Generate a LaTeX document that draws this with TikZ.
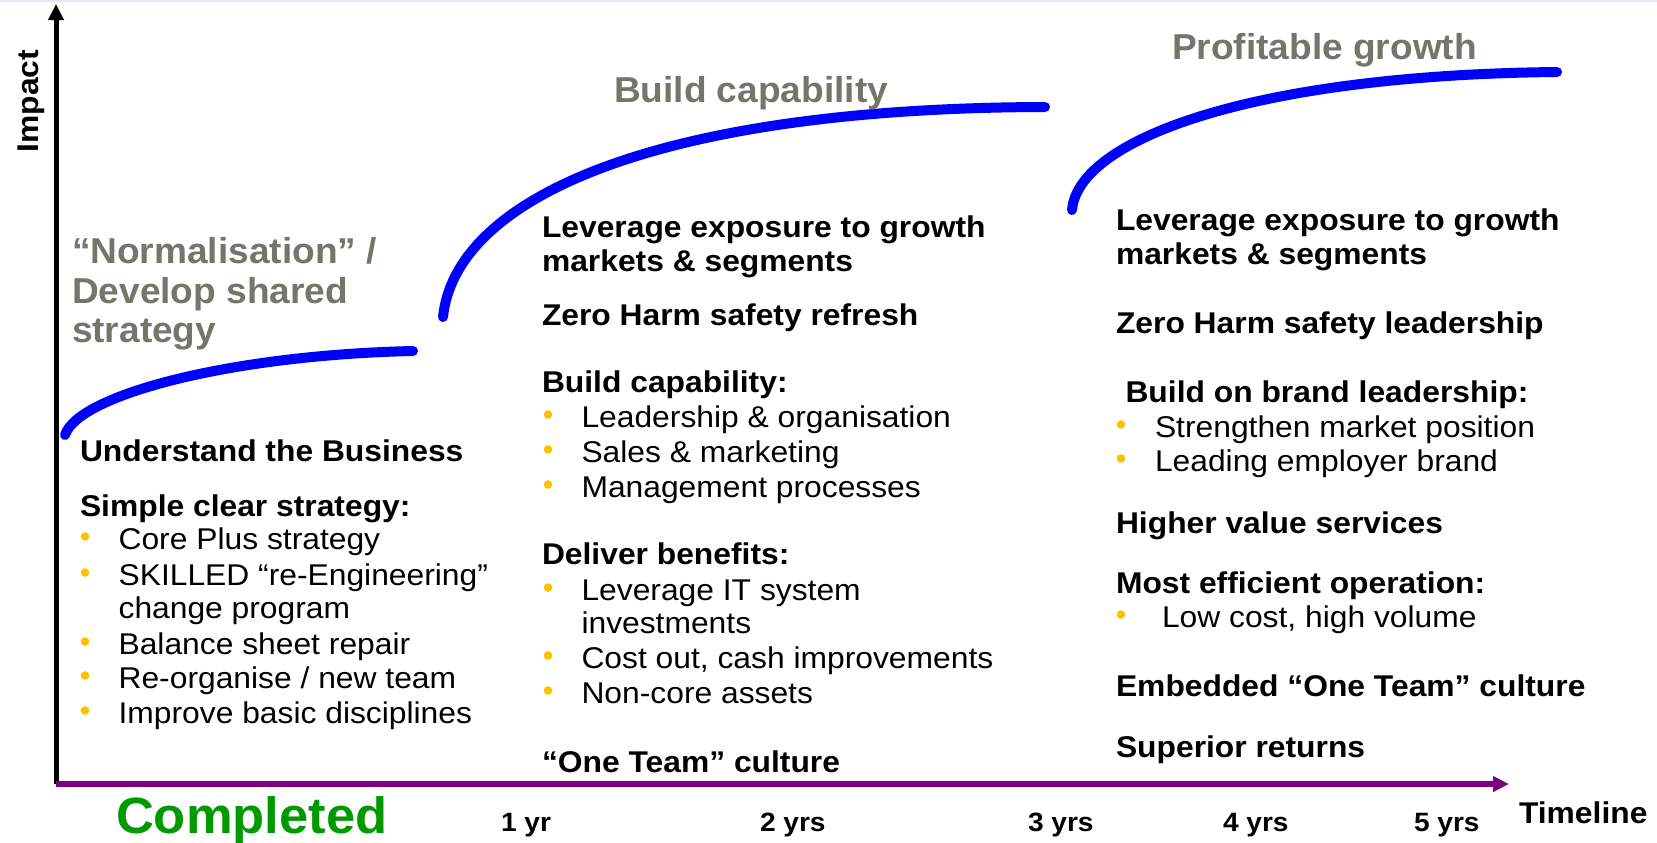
\documentclass[tikz,border=0pt]{standalone}
\usepackage{fontspec}
\usetikzlibrary{arrows.meta}

% Type faces: body text slightly widened, phase titles nearly natural width
\newfontfamily\bodyfam{Liberation Sans}[FakeStretch=1.06]
\newfontfamily\titlefam{Liberation Sans}[FakeStretch=1.03]

\definecolor{curveblue}{RGB}{0,0,255}
\definecolor{axispurple}{RGB}{128,0,128}
\definecolor{phasegray}{RGB}{116,117,107}
\definecolor{bulletamber}{RGB}{255,192,0}
\definecolor{donegreen}{RGB}{0,154,0}
\definecolor{edgeline}{RGB}{226,231,246}

\tikzset{
  txt/.style={anchor=base west, inner sep=0pt, outer sep=0pt},
  headline/.style={txt, font=\bodyfam\bfseries\fontsize{15}{18}\selectfont},
  itemline/.style={txt, font=\bodyfam\fontsize{15}{18}\selectfont},
  phase/.style={txt, text=phasegray, font=\titlefam\bfseries\fontsize{18}{21}\selectfont},
  ticklabel/.style={txt, font=\bodyfam\bfseries\fontsize{13.25}{16}\selectfont},
  bulletdot/.style={circle, fill=bulletamber, inner sep=0pt, minimum size=4.3pt},
  growth/.style={draw=curveblue, line width=5pt, line cap=round},
  yaxis/.style={draw=black, line width=2.5pt, -{Triangle[length=8pt,width=7.5pt]}},
  xaxis/.style={draw=axispurple, line width=2.7pt, -{Triangle[length=8pt,width=7.5pt]}},
}

\begin{document}
\begin{tikzpicture}[x=0.5pt, y=-0.5pt]
\useasboundingbox (0,0) rectangle (1657,842);

% thin rule along the top edge
\draw[edgeline, line width=1pt] (0,1) -- (1657,1);

% axes
\coordinate (origin) at (56,784);
\coordinate (ytip) at (56,4);
\coordinate (xtip) at (1509,784);
\draw[yaxis] (origin) -- (ytip);
\draw[xaxis] (origin) -- (xtip);
\node[headline, anchor=base, rotate=90] (impact) at (38,101) {Impact};
\node[headline] (timeline) at (1519,823) {Timeline};

% growth curves, one per phase
\coordinate (g1s) at (65,435);   \coordinate (g1e) at (413,351);
\coordinate (g2s) at (443,317);  \coordinate (g2e) at (1045,107);
\coordinate (g3s) at (1072,210); \coordinate (g3e) at (1557,72);
\draw[growth] (g1s) .. controls (78,395) and (230,355) .. (g1e);
\draw[growth] (g2s) .. controls (455,200) and (650,108) .. (g2e);
\draw[growth] (g3s) .. controls (1078,140) and (1250,75) .. (g3e);

% phase titles
\node[phase] (p1a) at (72,263) {“Normalisation” /};
\node[phase] (p1b) at (72,303) {Develop shared};
\node[phase] (p1c) at (72,342) {strategy};
\node[phase] (p2) at (614,102) {Build capability};
\node[phase] (p3) at (1172,59) {Profitable growth};

% first phase
\node[headline] (c1h1) at (80,461) {Understand the Business};
\node[headline] (c1h2) at (80,516) {Simple clear strategy:};
\node[itemline] (c1i1) at (118.6,549) {Core Plus strategy};
\node[itemline] (c1i2) at (118.6,585) {SKILLED “re-Engineering”};
\node[itemline] (c1i2b) at (118.6,618) {change program};
\node[itemline] (c1i3) at (118.6,654) {Balance sheet repair};
\node[itemline] (c1i4) at (118.6,688) {Re-organise / new team};
\node[itemline] (c1i5) at (118.6,723) {Improve basic disciplines};
\node[bulletdot] (c1d1) at (85,536.5) {};
\node[bulletdot] (c1d2) at (85,572.5) {};
\node[bulletdot] (c1d3) at (85,641.5) {};
\node[bulletdot] (c1d4) at (85,675.5) {};
\node[bulletdot] (c1d5) at (85,710.5) {};

% second phase
\node[headline] (c2h1) at (542,237) {Leverage exposure to growth};
\node[headline] (c2h1b) at (542,271) {markets \& segments};
\node[headline] (c2h2) at (542,325) {Zero Harm safety refresh};
\node[headline] (c2h3) at (542,392) {Build capability:};
\node[itemline] (c2i1) at (581.5,427) {Leadership \& organisation};
\node[itemline] (c2i2) at (581.5,462) {Sales \& marketing};
\node[itemline] (c2i3) at (581.5,497) {Management processes};
\node[headline] (c2h4) at (542,564) {Deliver benefits:};
\node[itemline] (c2i4) at (581.5,600) {Leverage IT system};
\node[itemline] (c2i4b) at (581.5,633) {investments};
\node[itemline] (c2i5) at (581.5,668) {Cost out, cash improvements};
\node[itemline] (c2i6) at (581.5,703) {Non-core assets};
\node[headline] (c2h5) at (542,772) {“One Team” culture};
\node[bulletdot] (c2d1) at (548,414.5) {};
\node[bulletdot] (c2d2) at (548,449.5) {};
\node[bulletdot] (c2d3) at (548,484.5) {};
\node[bulletdot] (c2d4) at (548,587.5) {};
\node[bulletdot] (c2d5) at (548,655.5) {};
\node[bulletdot] (c2d6) at (548,690.5) {};

% third phase
\node[headline] (c3h1) at (1116,230) {Leverage exposure to growth};
\node[headline] (c3h1b) at (1116,264) {markets \& segments};
\node[headline] (c3h2) at (1116,333) {Zero Harm safety leadership};
\node[headline] (c3h3) at (1125.5,402) {Build on brand leadership:};
\node[itemline] (c3i1) at (1155,437) {Strengthen market position};
\node[itemline] (c3i2) at (1155,471) {Leading employer brand};
\node[headline] (c3h4) at (1116,533) {Higher value services};
\node[headline] (c3h5) at (1116,593) {Most efficient operation:};
\node[itemline] (c3i3) at (1162,627) {Low cost, high volume};
\node[headline] (c3h6) at (1116,696) {Embedded “One Team” culture};
\node[headline] (c3h7) at (1116,757) {Superior returns};
\node[bulletdot] (c3d1) at (1121,424.5) {};
\node[bulletdot] (c3d2) at (1121,458.5) {};
\node[bulletdot] (c3d3) at (1121,614.5) {};

% timeline labels
\node[txt, text=donegreen, font=\titlefam\bfseries\fontsize{25.5}{30}\selectfont] (done) at (116,833) {Completed};
\node[ticklabel] (t1) at (501,831) {1 yr};
\node[ticklabel] (t2) at (760,831) {2 yrs};
\node[ticklabel] (t3) at (1028,831) {3 yrs};
\node[ticklabel] (t4) at (1223,831) {4 yrs};
\node[ticklabel] (t5) at (1414,831) {5 yrs};
\end{tikzpicture}
\end{document}
